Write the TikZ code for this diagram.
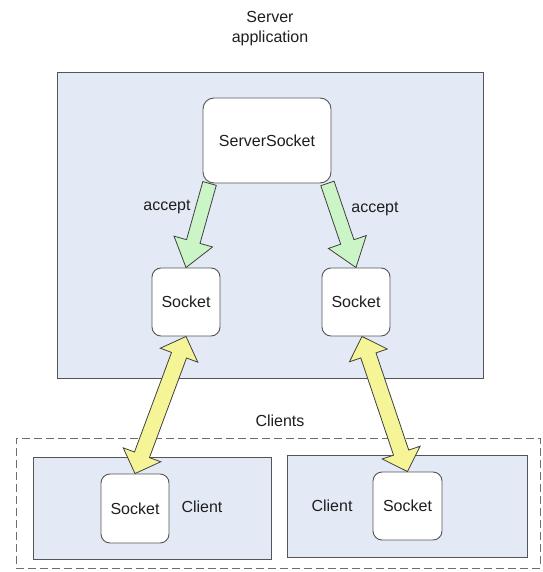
\documentclass[tikz,border=0pt]{standalone}
\usepackage{fontspec}
\setmainfont{Liberation Sans}
\usetikzlibrary{calc}
\definecolor{boxfill}{HTML}{E3EAF5}
\definecolor{boxline}{HTML}{555555}
\definecolor{acceptfill}{HTML}{CBF5C6}
\definecolor{linkfill}{HTML}{F5F598}
\definecolor{ink}{HTML}{1E1E1E}

% one-headed block arrow: #1 style, #2 from, #3 to
\newcommand\acceptarrow[3]{%
\coordinate (fa-s) at #2;
\coordinate (fa-e) at #3;
\coordinate (fa-h) at ($(fa-e)!27pt!(fa-s)$);
\draw[#1] ($(fa-s)!7pt!90:(fa-e)$) -- ($(fa-h)!7pt!-90:(fa-s)$) -- ($(fa-h)!20pt!-90:(fa-s)$) -- (fa-e)
  -- ($(fa-h)!20pt!90:(fa-s)$) -- ($(fa-h)!7pt!90:(fa-s)$) -- ($(fa-s)!7pt!-90:(fa-e)$) -- cycle;}
% two-headed block arrow
\newcommand\linkarrow[3]{%
\coordinate (da-s) at #2;
\coordinate (da-e) at #3;
\coordinate (da-a) at ($(da-s)!20pt!(da-e)$);
\coordinate (da-b) at ($(da-e)!20pt!(da-s)$);
\draw[#1] (da-s) -- ($(da-a)!20pt!90:(da-e)$) -- ($(da-a)!8pt!90:(da-e)$) -- ($(da-b)!8pt!-90:(da-s)$)
  -- ($(da-b)!20pt!-90:(da-s)$) -- (da-e) -- ($(da-b)!20pt!90:(da-s)$) -- ($(da-b)!8pt!90:(da-s)$)
  -- ($(da-a)!8pt!-90:(da-e)$) -- ($(da-a)!20pt!-90:(da-e)$) -- cycle;}

\begin{document}
\begin{tikzpicture}[x=1pt,y=-1pt,every node/.style={font=\fontsize{16}{20}\selectfont,text=ink},
  area/.style={draw=boxline,line width=1pt,fill=boxfill,inner sep=0pt},
  sock/.style={draw=boxline,line width=.9pt,fill=white,rounded corners=9pt,inner sep=0pt,minimum width=68pt,minimum height=68pt},
  accept/.style={draw=black!75,line width=.8pt,fill=acceptfill,line join=miter},
  link/.style={draw=black!75,line width=.8pt,fill=linkfill,line join=miter}]
\useasboundingbox (0,0) rectangle (542,572);
% server side
\node[align=center] (title) at (270,29) {Server\\application};
\node[area,minimum width=426pt,minimum height=305pt] (server) at (270,225.5) {};
\node[sock,rounded corners=11pt,minimum width=128pt,minimum height=85pt] (ss) at (267,140.5) {ServerSocket};
\node[sock] (s1) at (186,302) {Socket};
\node[sock] (s2) at (356,302) {Socket};
\node (acc1) at (167,207) {accept};
\node (acc2) at (375,209) {accept};
% client side
\node (clt) at (280,421) {Clients};
\node[draw=boxline!85,line width=.9pt,dash pattern=on 8pt off 4pt,minimum width=524pt,minimum height=130pt,inner sep=0pt] (clients) at (278,503) {};
\node[area,minimum width=238pt,minimum height=102pt] (cl1) at (152,508) {};
\node[area,minimum width=240pt,minimum height=102pt] (cl2) at (407,506) {};
\node[sock,minimum height=69pt] (c1) at (135,508.5) {Socket};
\node[sock,minimum width=69pt] (c2) at (407.5,506) {Socket};
\node (n1) at (202,507) {Client};
\node (n2) at (332,506) {Client};
% arrows
\acceptarrow{accept}{([xshift=7pt]ss.south west)}{(s1.north)}
\acceptarrow{accept}{([xshift=-4pt]ss.south east)}{(s2.north)}
\linkarrow{link}{(s1.south)}{(c1.north)}
\linkarrow{link}{([xshift=6pt]s2.south)}{(c2.north)}
\end{tikzpicture}
\end{document}
